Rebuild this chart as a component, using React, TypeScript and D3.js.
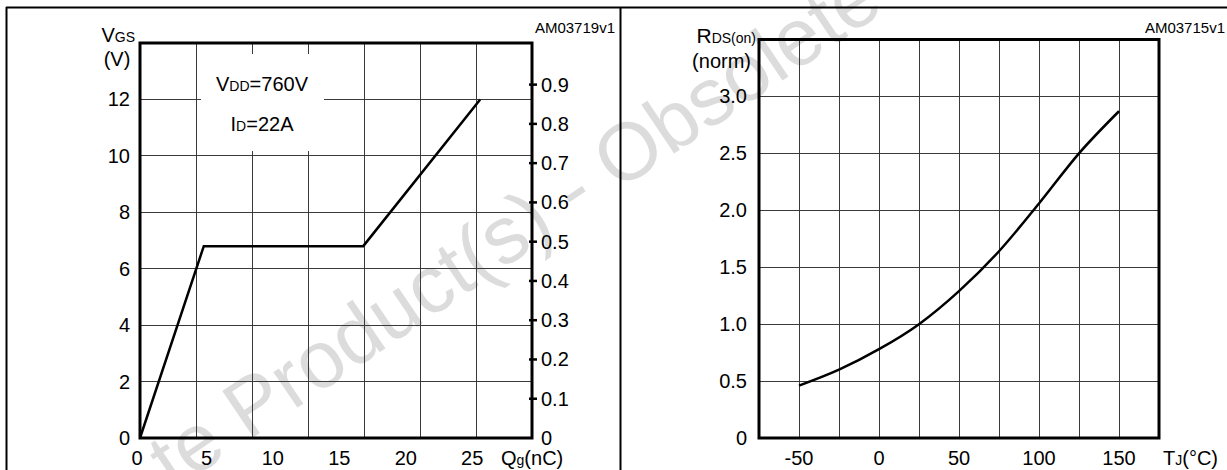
import React from "react";
import * as d3 from "d3";

const width = 1227;
const height = 470;
const font = "'Liberation Sans', Arial, sans-serif";

// gate charge curve
const qg = [0, 4.8, 16.8, 25.6];
const vgs = [0, 6.8, 6.8, 12];
const qgTicks = [0, 5, 10, 15, 20, 25];
const vgsTicks = [0, 2, 4, 6, 8, 10, 12];
const rightTicks = [0, 0.1, 0.2, 0.3, 0.4, 0.5, 0.6, 0.7, 0.8, 0.9];

// normalized on-resistance vs temperature
const tj = [-50, -25, 0, 25, 50, 75, 100, 125, 150];
const rds = [0.46, 0.6, 0.78, 1.0, 1.29, 1.64, 2.06, 2.5, 2.87];
const tjTicks = [-50, 0, 50, 100, 150];
const tjGrid = [-50, -25, 0, 25, 50, 75, 100, 125, 150];
const rdsTicks = [0, 0.5, 1.0, 1.5, 2.0, 2.5, 3.0];

// left panel scales
const xL = d3.scaleLinear().domain([0, 29.5]).range([140, 532]);
const yL = d3.scaleLinear().domain([0, 14]).range([438, 43]);
const yL2 = d3.scaleLinear().domain([0, 1.006]).range([438, 43]);
const leftCols = d3.range(1, 7).map((i) => (i * 29.5) / 7);

// right panel scales
const xR = d3.scaleLinear().domain([-75, 175]).range([759, 1159]);
const yR = d3.scaleLinear().domain([0, 3.5]).range([438, 39.5]);

const gridColor = "#3a3a3a";

export default function App() {
  const lineL = d3
    .line<number>()
    .x((d, i) => xL(qg[i]))
    .y((d) => yL(d));
  const lineR = d3
    .line<number>()
    .x((d, i) => xR(tj[i]))
    .y((d) => yR(d))
    .curve(d3.curveMonotoneX);

  return (
    <svg
      width={width}
      height={height}
      style={{ position: "absolute", left: 0, top: 0, background: "#fff" }}
      fontFamily={font}
    >
      {/* watermark */}
      <text
        transform="translate(248,441) rotate(-34)"
        fontSize={81}
        fill="#dcdcdc"
        dx="-1.112em"
      >
        te Product(s) - Obsolete
      </text>

      {/* outer frame */}
      <line x1={6} x2={width} y1={7.5} y2={7.5} stroke="#000" strokeWidth={2} />
      <line x1={6.5} x2={6.5} y1={7} y2={height} stroke="#000" strokeWidth={2} />
      <line x1={620.5} x2={620.5} y1={7} y2={height} stroke="#000" strokeWidth={2} />

      {/* ---- left panel ---- */}
      <g shapeRendering="crispEdges" stroke={gridColor} strokeWidth={1}>
        {vgsTicks.slice(1).map((v) => (
          <line key={"h" + v} x1={xL(0)} x2={xL(29.5)} y1={yL(v)} y2={yL(v)} />
        ))}
        {leftCols.map((c) => (
          <line key={"v" + c} x1={xL(c)} x2={xL(c)} y1={yL(0)} y2={yL(14)} />
        ))}
      </g>
      {/* annotation box */}
      <rect x={201} y={54} width={123} height={97} fill="#fff" />
      <text x={262} y={91} fontSize={20} textAnchor="middle">
        V<tspan fontSize={14}>DD</tspan>=760V
      </text>
      <text x={262} y={131} fontSize={20} textAnchor="middle">
        I<tspan fontSize={14}>D</tspan>=22A
      </text>

      <rect
        x={xL(0)}
        y={yL(14)}
        width={xL(29.5) - xL(0)}
        height={yL(0) - yL(14)}
        fill="none"
        stroke="#000"
        strokeWidth={3}
      />
      <path d={lineL(vgs) || ""} fill="none" stroke="#000" strokeWidth={2.5} strokeLinejoin="miter" />

      {vgsTicks.map((v) => (
        <text key={"yl" + v} x={130} y={yL(v)} dy="0.35em" fontSize={20} textAnchor="end">
          {v}
        </text>
      ))}
      {rightTicks.map((v) => (
        <g key={"yr" + v}>
          {v > 0 && (
            <line x1={xL(29.5) - 3} x2={xL(29.5) + 5} y1={yL2(v)} y2={yL2(v)} stroke="#000" strokeWidth={2.5} />
          )}
          <text x={541} y={yL2(v)} dy="0.35em" fontSize={20}>
            {v}
          </text>
        </g>
      ))}
      {qgTicks.map((v) => (
        <text key={"xl" + v} x={xL(v) - (v === 0 ? 3 : 0)} y={465} fontSize={20} textAnchor="middle">
          {v}
        </text>
      ))}
      <text x={501} y={465} fontSize={20}>
        Q<tspan fontSize={14}>g</tspan>(nC)
      </text>
      <text x={135} y={42} fontSize={20} textAnchor="end">
        V<tspan fontSize={14}>GS</tspan>
      </text>
      <text x={117} y={66} fontSize={20} textAnchor="middle">
        (V)
      </text>
      <text x={615} y={33} fontSize={15} textAnchor="end">
        AM03719v1
      </text>

      {/* ---- right panel ---- */}
      <g shapeRendering="crispEdges" stroke={gridColor} strokeWidth={1}>
        {rdsTicks.slice(1).map((v) => (
          <line key={"rh" + v} x1={xR(-75)} x2={xR(175)} y1={yR(v)} y2={yR(v)} />
        ))}
        {tjGrid.map((t) => (
          <line key={"rv" + t} x1={xR(t)} x2={xR(t)} y1={yR(0)} y2={yR(3.5)} />
        ))}
      </g>
      <rect
        x={xR(-75)}
        y={yR(3.5)}
        width={xR(175) - xR(-75)}
        height={yR(0) - yR(3.5)}
        fill="none"
        stroke="#000"
        strokeWidth={3}
      />
      <path d={lineR(rds) || ""} fill="none" stroke="#000" strokeWidth={2.5} />

      {rdsTicks.map((v) => (
        <text key={"ry" + v} x={747} y={yR(v)} dy="0.35em" fontSize={20} textAnchor="end">
          {v === 0 ? "0" : v.toFixed(1)}
        </text>
      ))}
      {tjTicks.map((t) => (
        <text key={"rx" + t} x={xR(t)} y={465} fontSize={20} textAnchor="middle">
          {t}
        </text>
      ))}
      <text x={1163} y={465} fontSize={20}>
        T<tspan fontSize={14}>J</tspan>(°C)
      </text>
      <text x={756} y={43} fontSize={21} textAnchor="end">
        R<tspan fontSize={14}>DS(on)</tspan>
      </text>
      <text x={751} y={68} fontSize={20} textAnchor="end">
        (norm)
      </text>
      <text x={1225} y={33} fontSize={15} textAnchor="end">
        AM03715v1
      </text>
    </svg>
  );
}
